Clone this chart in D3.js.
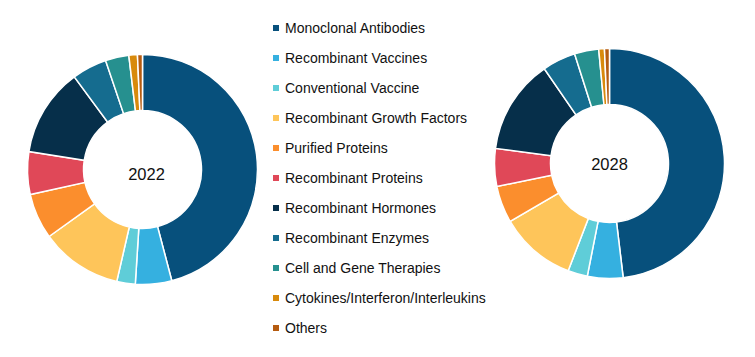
<!DOCTYPE html>
<html><head><meta charset="utf-8">
<script src="https://cdn.jsdelivr.net/npm/d3@7"></script>
<style>html,body{margin:0;padding:0;background:#fff;}svg{display:block;}</style>
</head><body>
<svg id="c" width="755" height="357"></svg>
<script>
const categories = ["Monoclonal Antibodies","Recombinant Vaccines","Conventional Vaccine","Recombinant Growth Factors","Purified Proteins","Recombinant Proteins","Recombinant Hormones","Recombinant Enzymes","Cell and Gene Therapies","Cytokines/Interferon/Interleukins","Others"];
const colors = ["#07507c","#35b0e0","#5fcdd8","#fec55a","#fb8e2d","#e04858","#062f4a","#156c8f","#26908f","#d88a0c","#b55b10"];
const values2022 = [45.9,5.1,2.6,11.5,6.4,6.0,12.4,4.9,3.3,1.2,0.7];
const values2028 = [48.1,5.0,2.75,10.75,5.2,5.3,13.3,4.7,3.4,0.8,0.7];
const years = ["2022","2028"];

const svg = d3.select("#c");
const font = "'Liberation Sans', Arial, sans-serif";
const pie = d3.pie().sort(null).value(d=>d);
const arc = d3.arc().innerRadius(59).outerRadius(115);

function donut(vals, cx, cy, label, tdx, tdy){
  const g = svg.append("g").attr("transform",`translate(${cx},${cy})`);
  g.selectAll("path").data(pie(vals)).join("path")
    .attr("d",arc).attr("fill",(d,i)=>colors[i])
    .attr("stroke","#fff").attr("stroke-width",1.5);
  g.append("text").attr("x",tdx).attr("y",tdy).attr("text-anchor","middle")
    .attr("dominant-baseline","central")
    .style("font-family",font).style("font-size","16.5px").attr("fill","#111").text(label);
}
donut(values2022, 142.5, 169.5, years[0], 4, 4);
donut(values2028, 609.5, 163.5, years[1], 0, 0);

const y = d3.scalePoint().domain(categories).range([28,328]);
const lg = svg.append("g");
const items = lg.selectAll("g").data(categories).join("g")
  .attr("transform",d=>`translate(273,${y(d)})`);
items.append("rect").attr("x",0).attr("y",-3).attr("width",6).attr("height",6)
  .attr("fill",(d,i)=>colors[i]);
items.append("text").attr("x",12).attr("y",0).attr("dominant-baseline","central")
  .style("font-family",font).style("font-size","14px").attr("fill","#111").text(d=>d);
</script>
</body></html>
